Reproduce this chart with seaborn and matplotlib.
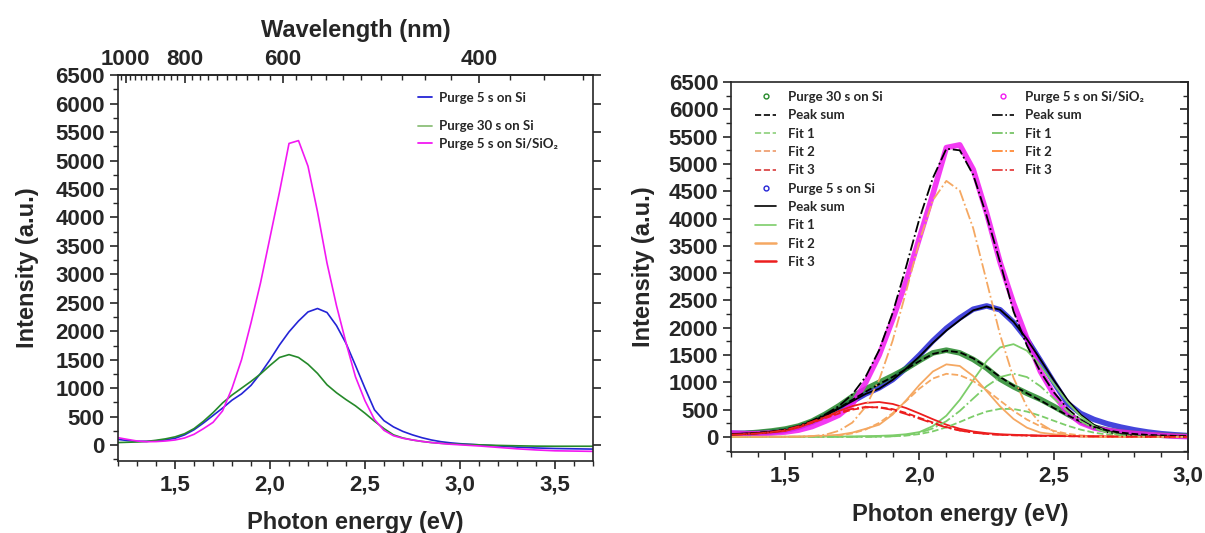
import numpy as np
import matplotlib
matplotlib.use('Agg')
import matplotlib.pyplot as plt
from matplotlib.lines import Line2D
from matplotlib.ticker import MultipleLocator, FixedLocator, FuncFormatter
import seaborn as sns

# photon energy grid (eV)
energia = [1.20, 1.25, 1.30, 1.35, 1.40, 1.45, 1.50, 1.55, 1.60, 1.65,
           1.70, 1.75, 1.80, 1.85, 1.90, 1.95, 2.00, 2.05, 2.10, 2.15,
           2.20, 2.25, 2.30, 2.35, 2.40, 2.45, 2.50, 2.55, 2.60, 2.65,
           2.70, 2.75, 2.80, 2.85, 2.90, 2.95, 3.00, 3.10, 3.20, 3.30,
           3.40, 3.50, 3.60, 3.70]

purga5_si = [100, 80, 68, 65, 75, 92, 120, 180, 270, 390,
             520, 650, 790, 900, 1050, 1260, 1500, 1760, 1990, 2180,
             2340, 2400, 2330, 2100, 1790, 1400, 1000, 620, 430, 320,
             240, 180, 130, 90, 60, 40, 25, 5, -15, -35,
             -50, -60, -65, -70]
purga30_si = [45, 50, 55, 65, 85, 110, 145, 200, 290, 420,
              570, 740, 880, 1000, 1120, 1250, 1400, 1540, 1590, 1540,
              1420, 1260, 1060, 920, 800, 690, 560, 420, 290, 180,
              125, 90, 65, 45, 32, 22, 15, 5, -5, -12,
              -18, -20, -20, -20]
purga5_sio2 = [130, 100, 72, 60, 62, 72, 90, 125, 190, 290,
               400, 600, 1000, 1500, 2150, 2850, 3650, 4450, 5300, 5350,
               4900, 4100, 3200, 2450, 1800, 1200, 780, 450, 260, 165,
               120, 90, 65, 45, 30, 15, 5, -15, -40, -65,
               -85, -100, -105, -110]

# fit curves, right panel (1.30 - 3.00 eV)
energia_fit = [1.30, 1.35, 1.40, 1.45, 1.50, 1.55, 1.60, 1.65,
               1.70, 1.75, 1.80, 1.85, 1.90, 1.95, 2.00, 2.05,
               2.10, 2.15, 2.20, 2.25, 2.30, 2.35, 2.40, 2.45,
               2.50, 2.55, 2.60, 2.65, 2.70, 2.75, 2.80, 2.85,
               2.90, 2.95, 3.00]

# purge 5 s on Si (solid)
suma_5 = [54, 62, 75, 91, 119, 188, 286, 397,
          523, 655, 790, 885, 1045, 1250, 1475, 1725,
          1950, 2140, 2320, 2390, 2330, 2110, 1790, 1420,
          1040, 685, 407, 220, 108, 52, 27, 14,
          9, 6, 4]
ajuste1_5 = [2, 2, 3, 3, 4, 5, 6, 7,
             8, 10, 15, 20, 30, 50, 90, 200,
             390, 680, 1040, 1390, 1640, 1700, 1580, 1310,
             970, 640, 380, 200, 95, 40, 18, 8,
             4, 2, 1]
ajuste2_5 = [2, 2, 2, 3, 5, 8, 15, 25,
             40, 80, 150, 225, 410, 670, 955, 1200,
             1330, 1300, 1115, 840, 560, 330, 170, 80,
             50, 25, 12, 6, 3, 2, 1, 1,
             1, 1, 1]
ajuste3_5 = [50, 58, 70, 85, 110, 175, 265, 365,
             475, 565, 625, 640, 605, 530, 430, 325,
             225, 150, 100, 70, 50, 40, 32, 26,
             22, 18, 15, 12, 10, 8, 6, 5,
             4, 3, 2]

# purge 30 s on Si (dashed)
suma_30 = [50, 60, 78, 100, 135, 190, 275, 390,
           530, 680, 830, 970, 1100, 1240, 1390, 1520,
           1580, 1550, 1440, 1280, 1100, 940, 800, 670,
           530, 400, 280, 185, 120, 80, 55, 38,
           28, 20, 15]
ajuste1_30 = [2, 2, 2, 2, 2, 2, 2, 2,
              2, 3, 4, 6, 12, 25, 53, 103,
              177, 274, 378, 466, 515, 512, 465, 388,
              297, 208, 134, 79, 43, 21, 10, 5,
              3, 2, 1]
ajuste2_30 = [2, 2, 2, 2, 2, 3, 5, 12,
              28, 65, 137, 258, 435, 657, 886, 1071,
              1157, 1132, 1024, 858, 666, 478, 318, 196,
              112, 59, 29, 13, 6, 3, 2, 2,
              1, 1, 1]
ajuste3_30 = [45, 55, 68, 88, 120, 180, 260, 345,
              430, 500, 540, 545, 510, 440, 350, 265,
              180, 120, 80, 55, 40, 32, 26, 21,
              17, 14, 12, 10, 8, 6, 5, 4,
              3, 2, 2]

# purge 5 s on Si/SiO2 (dash-dot)
suma_ox = [44, 54, 69, 94, 134, 202, 297, 414,
           565, 780, 1107, 1593, 2271, 3113, 4002, 4745,
           5280, 5250, 4800, 4050, 3200, 2300, 1673, 1196,
           818, 525, 311, 170, 85, 40, 19, 10,
           6, 5, 4]
ajuste1_ox = [2, 2, 2, 2, 2, 2, 2, 2,
              2, 2, 2, 5, 13, 33, 76, 157,
              289, 477, 704, 929, 1097, 1160, 1097, 929,
              704, 477, 289, 157, 76, 33, 13, 5,
              2, 2, 2]
ajuste2_ox = [2, 2, 2, 2, 2, 5, 15, 42,
              113, 263, 555, 1048, 1763, 2660, 3591, 4338,
              4690, 4512, 3822, 2851, 1871, 1082, 550, 246,
              97, 34, 10, 3, 1, 1, 1, 1,
              1, 1, 1]
ajuste3_ox = [40, 50, 65, 90, 130, 195, 280, 370,
              450, 515, 550, 540, 495, 420, 335, 250,
              175, 118, 80, 55, 40, 32, 26, 21,
              17, 14, 12, 10, 8, 6, 5, 4,
              3, 2, 2]

azul = '#2424d6'
verde = '#25892a'
rosa = '#f218f2'
v_claro = '#7dcd6a'
naranja = '#f5a862'
rojo = '#ec1e1e'

sns.set_style('ticks')
plt.rcParams['font.family'] = ['Liberation Sans', 'DejaVu Sans']
plt.rcParams['font.weight'] = 'bold'
plt.rcParams['axes.labelweight'] = 'bold'
plt.rcParams['axes.linewidth'] = 1.2
fuente_ley = dict(family=['Lato', 'DejaVu Sans'], weight='bold', size=9.5)

fig = plt.figure(figsize=(12.05, 5.33), dpi=100)
ax1 = fig.add_axes([0.098, 0.135, 0.394, 0.724])
ax2 = fig.add_axes([0.607, 0.152, 0.379, 0.694])

coma = FuncFormatter(lambda v, p: ('%.1f' % v).replace('.', ','))

# ---------- left panel ----------
sns.lineplot(x=energia, y=purga5_si, ax=ax1, color=azul, linewidth=1.2)
sns.lineplot(x=energia, y=purga30_si, ax=ax1, color=verde, linewidth=1.2)
sns.lineplot(x=energia, y=purga5_sio2, ax=ax1, color=rosa, linewidth=1.2)
ax1.set_xlim(1.2, 3.7)
ax1.set_ylim(-280, 6500)
ax1.xaxis.set_major_locator(MultipleLocator(0.5))
ax1.xaxis.set_minor_locator(MultipleLocator(0.1))
ax1.yaxis.set_major_locator(MultipleLocator(500))
ax1.yaxis.set_minor_locator(MultipleLocator(250))
ax1.xaxis.set_major_formatter(coma)
ax1.tick_params(which='major', length=6, width=1.2, labelsize=16, direction='out', right=True)
ax1.tick_params(which='minor', length=3.5, width=1.0, direction='out')
ax1.set_xlabel('Photon energy (eV)', fontsize=17, labelpad=11)
ax1.set_ylabel('Intensity (a.u.)', fontsize=17, labelpad=12)


def ev_nm(e):
    e = np.asarray(e, dtype=float)
    with np.errstate(divide='ignore'):
        return 1239.84 / e


arriba = ax1.secondary_xaxis('top', functions=(ev_nm, ev_nm))
arriba.xaxis.set_major_locator(FixedLocator([1000, 800, 600, 400]))
arriba.xaxis.set_minor_locator(FixedLocator(list(range(340, 1040, 20))))
arriba.tick_params(which='major', direction='in', length=6, width=1.2, labelsize=16, pad=4)
arriba.tick_params(which='minor', direction='in', length=3.5, width=1.0)
arriba.set_xlabel('Wavelength (nm)', fontsize=17, labelpad=8)

h1 = [Line2D([], [], color=azul, lw=1.3)]
ley1 = ax1.legend(h1, ['Purge 5 s on Si'], loc='upper left', bbox_to_anchor=(0.62, 0.97),
                  frameon=False, prop=fuente_ley, handlelength=1.1, handletextpad=0.5,
                  borderaxespad=0)
ax1.add_artist(ley1)
h2 = [Line2D([], [], color='#8cbf7a', lw=1.3), Line2D([], [], color=rosa, lw=1.3)]
ax1.legend(h2, ['Purge 30 s on Si', 'Purge 5 s on Si/SiO₂'], loc='upper left',
           bbox_to_anchor=(0.62, 0.897), frameon=False, prop=fuente_ley,
           handlelength=1.1, handletextpad=0.5, labelspacing=0.45, borderaxespad=0)

# ---------- right panel ----------
n0, n1 = 2, 37
sns.lineplot(x=energia[n0:n1], y=purga5_si[n0:n1], ax=ax2, color=azul, linewidth=4, alpha=0.85)
sns.lineplot(x=energia[n0:n1], y=purga30_si[n0:n1], ax=ax2, color=verde, linewidth=4, alpha=0.85)
sns.lineplot(x=energia[n0:n1], y=purga5_sio2[n0:n1], ax=ax2, color=rosa, linewidth=4, alpha=0.85)

for serie, col, est in [(suma_5, 'black', '-'), (ajuste1_5, v_claro, '-'),
                        (ajuste2_5, naranja, '-'), (ajuste3_5, rojo, '-'),
                        (suma_30, 'black', '--'), (ajuste1_30, v_claro, '--'),
                        (ajuste2_30, naranja, '--'), (ajuste3_30, rojo, '--'),
                        (suma_ox, 'black', '-.'), (ajuste1_ox, v_claro, '-.'),
                        (ajuste2_ox, naranja, '-.'), (ajuste3_ox, rojo, '-.')]:
    sns.lineplot(x=energia_fit, y=serie, ax=ax2, color=col, linewidth=1.3, linestyle=est)

ax2.set_xlim(1.3, 3.0)
ax2.set_ylim(-275, 6500)
ax2.xaxis.set_major_locator(MultipleLocator(0.5))
ax2.xaxis.set_minor_locator(MultipleLocator(0.1))
ax2.yaxis.set_major_locator(MultipleLocator(500))
ax2.yaxis.set_minor_locator(MultipleLocator(250))
ax2.xaxis.set_major_formatter(coma)
ax2.tick_params(which='major', length=6, width=1.2, labelsize=16, direction='out')
ax2.tick_params(which='minor', length=3.5, width=1.0, direction='out')
ax2.set_xlabel('Photon energy (eV)', fontsize=17, labelpad=12)
ax2.set_ylabel('Intensity (a.u.)', fontsize=17, labelpad=10)

derecha = ax2.secondary_yaxis('right')
derecha.yaxis.set_major_locator(MultipleLocator(500))
derecha.yaxis.set_minor_locator(MultipleLocator(250))
derecha.tick_params(which='major', direction='in', length=6, width=1.2, labelright=False)
derecha.tick_params(which='minor', direction='in', length=3.5, width=1.0)


def circulo(c):
    return Line2D([], [], marker='o', markersize=3.5, markerfacecolor='none',
                  markeredgecolor=c, linestyle='none')


hA = [circulo(verde), Line2D([], [], color='black', lw=1.2, ls='--'),
      Line2D([], [], color='#8cd07a', lw=1.2, ls='--'),
      Line2D([], [], color='#ee9a68', lw=1.2, ls='--'),
      Line2D([], [], color='#d83a3a', lw=1.2, ls='--'),
      circulo(azul), Line2D([], [], color='black', lw=1.2),
      Line2D([], [], color=v_claro, lw=1.2),
      Line2D([], [], color=naranja, lw=1.8),
      Line2D([], [], color=rojo, lw=1.8)]
tA = ['Purge 30 s on Si', 'Peak sum', 'Fit 1', 'Fit 2', 'Fit 3',
      'Purge 5 s on Si', 'Peak sum', 'Fit 1', 'Fit 2', 'Fit 3']
leyA = ax2.legend(hA, tA, loc='upper left', bbox_to_anchor=(0.04, 0.99), frameon=False,
                  prop=fuente_ley, handlelength=1.6, handletextpad=0.9,
                  labelspacing=0.48, borderaxespad=0)
ax2.add_artist(leyA)

hC = [circulo(rosa), Line2D([], [], color='black', lw=1.2, ls='-.'),
      Line2D([], [], color='#6cbf5a', lw=1.2, ls='-.'),
      Line2D([], [], color='#ff8026', lw=1.2, ls='-.'),
      Line2D([], [], color='#e43030', lw=1.2, ls='-.')]
tC = ['Purge 5 s on Si/SiO₂', 'Peak sum', 'Fit 1', 'Fit 2', 'Fit 3']
ax2.legend(hC, tC, loc='upper left', bbox_to_anchor=(0.56, 0.99), frameon=False,
           prop=fuente_ley, handlelength=1.6, handletextpad=0.9,
           labelspacing=0.48, borderaxespad=0)

plt.savefig('out.png', dpi=100)
